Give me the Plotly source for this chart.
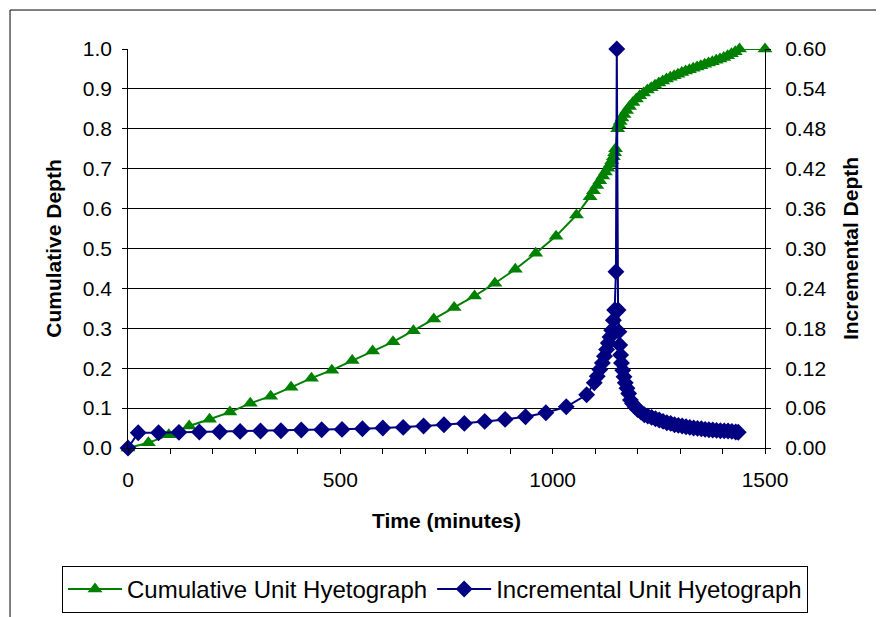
import plotly.graph_objects as go

# Cumulative unit hyetograph (time in minutes, cumulative fraction of depth)
cum_time = [0, 48, 96, 144, 192, 240, 288, 336, 384, 432, 480, 528, 576, 624, 672, 720,
            768, 816, 864, 912, 960, 1008, 1056,
            1088, 1096, 1104, 1111, 1118, 1124, 1130, 1135, 1139, 1143, 1146, 1148,
            1153, 1156, 1159, 1163, 1168, 1174, 1181, 1189, 1197, 1205, 1214, 1223,
            1232, 1241, 1250, 1259, 1268, 1277, 1286, 1295, 1304, 1313, 1322, 1331,
            1340, 1349, 1358, 1367, 1376, 1385, 1394, 1403, 1412, 1421, 1430, 1440, 1500]
cum_depth = [0.0, 0.013, 0.033, 0.055, 0.072, 0.090, 0.112, 0.130, 0.152, 0.175, 0.195, 0.219,
             0.243, 0.266, 0.294, 0.323, 0.352, 0.381, 0.413, 0.448, 0.488, 0.531, 0.584,
             0.630, 0.645, 0.658, 0.670, 0.682, 0.692, 0.701, 0.711, 0.720, 0.730, 0.740, 0.750,
             0.800, 0.810, 0.818, 0.827, 0.836, 0.846, 0.856, 0.866, 0.875, 0.883, 0.890, 0.897,
             0.903, 0.909, 0.915, 0.920, 0.925, 0.929, 0.933, 0.937, 0.941, 0.945, 0.948, 0.952,
             0.955, 0.958, 0.962, 0.965, 0.968, 0.972, 0.975, 0.979, 0.983, 0.988, 0.993, 1.000, 1.000]

# Incremental unit hyetograph
inc_time = [0, 24, 72, 120, 168, 216, 264, 312, 360, 408, 456, 504, 552, 600, 648, 696, 744,
            792, 840, 888, 936, 984, 1032, 1080,
            1098, 1105, 1111, 1117, 1122, 1127, 1131, 1135, 1139, 1143, 1146, 1149, 1151,
            1154, 1156, 1158, 1160, 1162, 1165, 1168, 1171, 1175, 1179, 1183, 1188, 1194,
            1200, 1208, 1216, 1224, 1233, 1242, 1251, 1260, 1269, 1278, 1287, 1296, 1305,
            1314, 1323, 1332, 1341, 1350, 1359, 1368, 1377, 1386, 1395, 1404, 1413, 1422,
            1431, 1437]
inc_depth = [0.0, 0.023, 0.023, 0.0235, 0.024, 0.0245, 0.025, 0.0255, 0.026, 0.027, 0.0275,
             0.028, 0.029, 0.030, 0.031, 0.033, 0.035, 0.037, 0.040, 0.043, 0.047, 0.053, 0.062,
             0.080,
             0.098, 0.108, 0.118, 0.128, 0.138, 0.148, 0.158, 0.167, 0.177, 0.192, 0.2075, 0.265,
             0.600,
             0.2075, 0.175, 0.155, 0.140, 0.128, 0.117, 0.107, 0.098, 0.090, 0.082, 0.072, 0.067,
             0.062, 0.058, 0.054, 0.050, 0.048, 0.046, 0.044, 0.042, 0.040, 0.038, 0.037, 0.035,
             0.034, 0.033, 0.032, 0.031, 0.030, 0.0295, 0.029, 0.028, 0.0275, 0.027, 0.0265,
             0.026, 0.0258, 0.0255, 0.025, 0.024, 0.0236]

y_ticks = [i / 10 for i in range(11)]
y_labels = ["0.0", "0.1", "0.2", "0.3", "0.4", "0.5", "0.6", "0.7", "0.8", "0.9", "1.0"]
y2_ticks = [i * 0.06 for i in range(11)]
x_ticks = [0, 500, 1000, 1500]

FONT = "Liberation Sans, Arial, sans-serif"
NBSP = "\u00a0"

fig = go.Figure()
fig.add_trace(go.Scatter(
    x=cum_time, y=cum_depth, name="Cumulative Unit Hyetograph",
    mode="lines+markers", cliponaxis=False,
    line=dict(color="#008000", width=2),
    marker=dict(symbol="triangle-up", size=13, color="#008000"),
))
fig.add_trace(go.Scatter(
    x=inc_time, y=inc_depth, name="Incremental Unit Hyetograph", yaxis="y2",
    mode="lines+markers", cliponaxis=False,
    line=dict(color="#000080", width=2),
    marker=dict(symbol="diamond", size=13, color="#000080"),
))

fig.update_layout(
    width=876, height=609,
    margin=dict(l=120, r=119, t=41, b=169, autoexpand=False),
    paper_bgcolor="white", plot_bgcolor="white",
    font=dict(family=FONT, color="black", size=21),
    showlegend=True,
    legend=dict(orientation="h", xref="paper", x=-0.1036, xanchor="left",
                yref="paper", y=-0.2955, yanchor="top",
                bordercolor="black", borderwidth=1, font=dict(size=24),
                bgcolor="white", itemsizing="trace", itemwidth=54, tracegroupgap=0),
    xaxis=dict(range=[0, 1500], tickvals=x_ticks, ticks="outside", ticklen=5,
               tickcolor="black", showline=True, linecolor="black", linewidth=1,
               showgrid=False, zeroline=False, automargin=False, ticklabelstandoff=8,
               minor=dict(dtick=100, ticks="outside", ticklen=5, tickcolor="black", showgrid=False),
               title=dict(text="<b>Time (minutes)</b>", font=dict(size=21), standoff=23)),
    yaxis=dict(range=[0, 1], tickvals=y_ticks, ticktext=[t + NBSP for t in y_labels],
               ticks="outside", ticklen=5,
               tickcolor="black", showline=True, linecolor="black", linewidth=1,
               showgrid=True, gridcolor="black", gridwidth=1, zeroline=False, automargin=False,
               title=dict(text="<b>Cumulative Depth</b>", font=dict(size=21), standoff=15)),
    yaxis2=dict(range=[0, 0.6], tickvals=y2_ticks, tickformat=".2f", ticks="outside", ticklen=5,
                tickcolor="black", showline=True, linecolor="black", linewidth=1,
                overlaying="y", side="right", showgrid=False, zeroline=False, automargin=False,
                ticklabelstandoff=10,
                title=dict(text="<b>Incremental Depth</b>", font=dict(size=21), standoff=17)),
    shapes=[dict(type="rect", xref="paper", yref="paper",
                 x0=-0.1852, x1=2.0, y0=-2.0, y1=1.0977,
                 line=dict(color="black", width=1), fillcolor="rgba(0,0,0,0)", layer="below")],
)

fig.write_html("out.html")
